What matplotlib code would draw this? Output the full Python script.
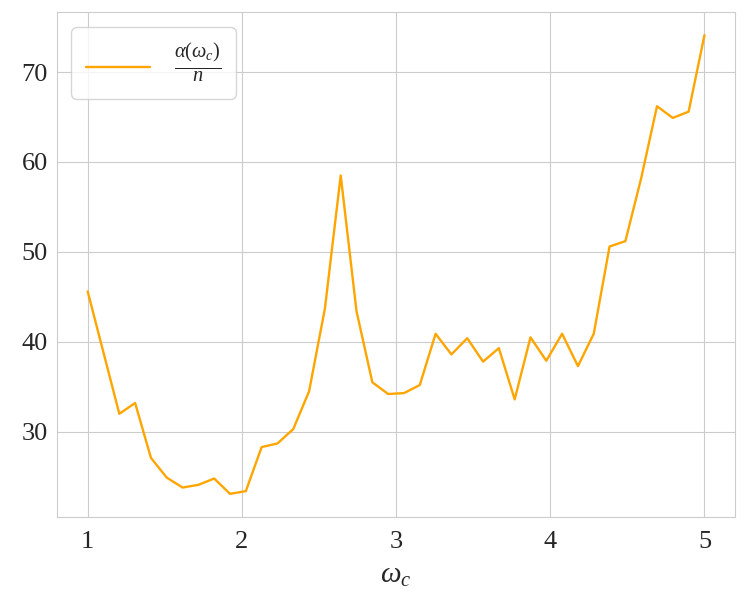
import numpy as np
import matplotlib
matplotlib.use("Agg")
import matplotlib.pyplot as plt
import seaborn as sns

# datos
omega_c = np.linspace(1, 5, 40)
ratio = [45.6, 38.8, 32.0, 33.2, 27.1, 24.9, 23.8, 24.1, 24.8, 23.1,
         23.4, 28.3, 28.7, 30.3, 34.5, 43.7, 58.5, 43.4, 35.5, 34.2,
         34.3, 35.2, 40.9, 38.6, 40.4, 37.8, 39.3, 33.6, 40.5, 37.9,
         40.9, 37.3, 40.9, 50.6, 51.2, 58.2, 66.2, 64.9, 65.6, 74.1]
x_ticks = [1, 2, 3, 4, 5]
y_ticks = [30, 40, 50, 60, 70]

sns.set_style("whitegrid")
plt.rcParams['font.family'] = ['Liberation Serif', 'DejaVu Serif']
plt.rcParams['mathtext.fontset'] = 'custom'
plt.rcParams['mathtext.rm'] = 'Liberation Serif'
plt.rcParams['mathtext.it'] = 'Liberation Serif:italic'

fig, ax = plt.subplots(figsize=(7.48, 6.13), dpi=100)
fig.subplots_adjust(left=0.076, right=0.983, top=0.980, bottom=0.157)

ax.plot(omega_c, ratio, color='orange', lw=1.7,
        label=r'$\frac{\alpha(\omega_c)}{n}$')

ax.set_xticks(x_ticks)
ax.set_yticks(y_ticks)
ax.tick_params(labelsize=19)
ax.tick_params(axis='x', pad=7)
ax.tick_params(axis='y', pad=3)
ax.set_xlabel(r'$\omega_c$', fontsize=21, labelpad=7)

leg = ax.legend(loc='upper left', fontsize=21, handlelength=2.2,
                frameon=True, borderpad=0.5)

fig.savefig("out.png", dpi=100)
